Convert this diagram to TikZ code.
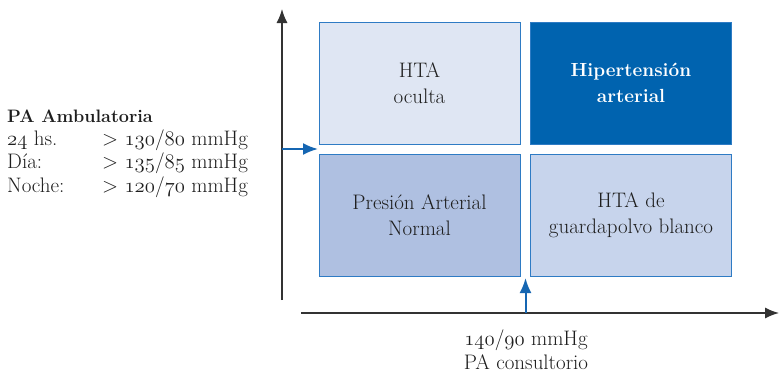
\documentclass[tikz,border=0pt]{standalone}
\usepackage{fontspec}
\usetikzlibrary{arrows.meta}
\definecolor{edgeblue}{HTML}{2E7BC4}
\definecolor{arrowblue}{HTML}{1566B2}
\definecolor{fillpale}{HTML}{DFE6F3}
\definecolor{filldark}{HTML}{0063AF}
\definecolor{fillmid}{HTML}{AFC0E1}
\definecolor{filllight}{HTML}{C7D4EC}
\definecolor{inkgray}{HTML}{1E1E1E}
\definecolor{axisgray}{HTML}{333333}
% old-style figures taken from the math italic font
\newcommand{\osn}[1]{{\usefont{OML}{cmm}{m}{it}#1}}
\tikzset{
  cell/.style={draw=edgeblue, line width=1pt, minimum width=201pt, minimum height=122pt,
    inner sep=0pt, align=center, text=inkgray,
    font=\fontsize{21}{26}\selectfont},
  axisline/.style={draw=axisgray, line width=1.3pt, -{Latex[length=14pt,width=11pt]}},
  marker/.style={draw=arrowblue, line width=2pt, -{Latex[length=15pt,width=12pt]}},
  label/.style={inner sep=0pt, text=inkgray, font=\fontsize{21}{26}\selectfont}
}
\begin{document}
\begin{tikzpicture}[x=1pt,y=-1pt]
\useasboundingbox (0,0) rectangle (779,372);

% quadrant boxes
\node[cell, fill=fillpale] (hidden) at (419.5,83) {HTA\\oculta};
\node[cell, fill=filldark, text=white, font=\fontsize{19}{26}\selectfont\bfseries] (hyper) at (631,83) {Hipertensión\\arterial};
\node[cell, fill=fillmid] (normal) at (419.5,215.5) {Presión Arterial\\Normal};
\node[cell, fill=filllight] (white) at (631,215.5) {HTA de\\guardapolvo blanco};

% axes
\coordinate (ybot) at (282,300);
\coordinate (ytop) at (282,9);
\coordinate (xleft) at (301,313);
\coordinate (xright) at (779,313);
\draw[axisline] (ybot) -- (ytop);
\draw[axisline] (xleft) -- (xright);

% threshold markers
\coordinate (hstart) at (282,149);
\coordinate (htip) at (318,149);
\draw[marker] (hstart) -- (htip);
\coordinate (vstart) at (525.5,313);
\coordinate (vtip) at (525.5,278);
\draw[marker] (vstart) -- (vtip);

% ambulatory thresholds
\node[label, anchor=base west, font=\fontsize{18}{26}\selectfont\bfseries] (amb) at (7,122) {PA Ambulatoria};
\node[label, anchor=base west] (r1a) at (7,145) {\osn{24} hs.};
\node[label, anchor=base west] (r1b) at (102,145) {> \osn{130}/\osn{80} mmHg};
\node[label, anchor=base west] (r2a) at (7,168.5) {Día:};
\node[label, anchor=base west] (r2b) at (102,168.5) {> \osn{135}/\osn{85} mmHg};
\node[label, anchor=base west] (r3a) at (7,192) {Noche:};
\node[label, anchor=base west] (r3b) at (102,192) {> \osn{120}/\osn{70} mmHg};

% office threshold
\node[label, anchor=base] (office1) at (526,345) {\osn{140}/\osn{90} mmHg};
\node[label, anchor=base] (office2) at (526,369) {PA consultorio};
\end{tikzpicture}
\end{document}
